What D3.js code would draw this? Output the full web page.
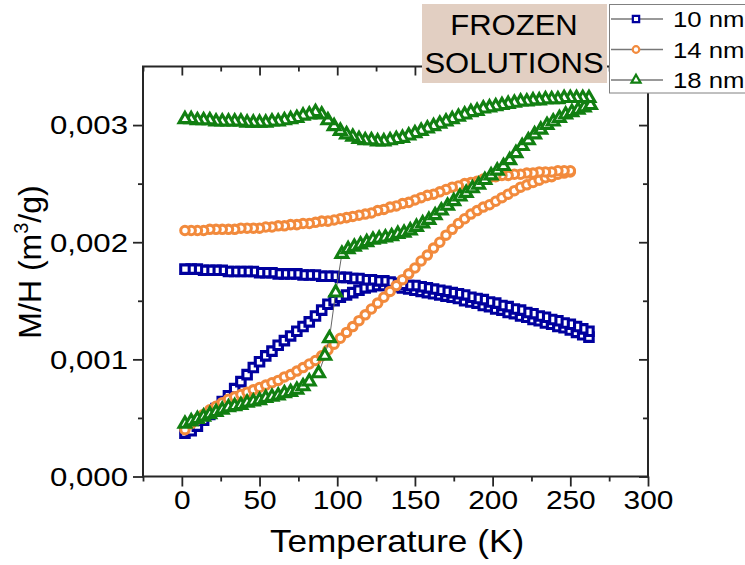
<!DOCTYPE html>
<html>
<head>
<meta charset="utf-8">
<script src="https://cdn.jsdelivr.net/npm/d3@7"></script>
<style>
  body { margin: 0; background: #fff; }
  svg text { font-family: "Liberation Sans", Arial, sans-serif; fill: #000; }
</style>
</head>
<body>
<svg id="chart" width="745" height="565"></svg>
<script>
// Temperature grids (K)
const temps = [2,6,10,14,18,22,26,30,34,38,42,46,50,54,58,62,66,70,74,78,82,86,90,94,98,102,106,110,114,118,122,126,130,134,138,142,146,150,154,158,162,166,170,174,178,182,186,190,194,198,202,206,210,214,218,222,226,230,234,238,242,246,250,254,258,262];
const temps14 = [2,6,10,14,18,22,26,30,34,38,42,46,50,54,58,62,66,70,74,78,82,86,90,94,98,102,106,110,114,118,122,126,130,134,138,142,146,150,154,158,162,166,170,174,178,182,186,190,194,198,202,206,210,214,218,222,226,230,234,238,242,246,250];
const tempsZfc18 = [2,6,10,14,18,22,26,30,34,38,42,46,50,54,58,62,66,70,74,78,82,88,92,95,99,103,107,111,115,119,123,127,131,135,139,143,147,151,155,159,163,167,171,175,179,183,187,191,195,199,203,207,211,215,219,223,227,231,235,239,243,247,251,255,259,263];

// M/H (m^3/g), zero-field-cooled (measured on warming) and field-cooled (listed by temperature)
const zfc10 = [0.00037,0.00039,0.00043,0.00048,0.00053,0.00058,0.00064,0.00069,0.00075,0.00081,
  0.00087,0.00093,0.00098,0.00103,0.00107,0.00112,0.00116,0.00120,0.00124,0.00128,
  0.00132,0.00137,0.00142,0.00147,0.00150,0.00153,0.00155,0.00157,0.00159,0.00161,
  0.00162,0.00163,0.00163,0.00163,0.00162,0.00161,0.00160,0.00159,0.00158,0.00157,
  0.00156,0.00155,0.00154,0.00153,0.00152,0.00150,0.00149,0.00148,0.00146,0.00145,
  0.00143,0.00142,0.00140,0.00139,0.00137,0.00136,0.00134,0.00133,0.00131,0.00130,
  0.00128,0.00127,0.00125,0.00123,0.00121,0.00119];
const fc10 = [0.00177,0.00177,0.00177,0.00176,0.00176,0.00176,0.00176,0.00175,0.00175,0.00175,
  0.00175,0.00175,0.00174,0.00174,0.00174,0.00173,0.00173,0.00173,0.00173,0.00172,
  0.00172,0.00172,0.00171,0.00171,0.00171,0.00170,0.00170,0.00169,0.00169,0.00168,
  0.00168,0.00167,0.00167,0.00166,0.00165,0.00164,0.00163,0.00163,0.00162,0.00161,
  0.00160,0.00159,0.00158,0.00157,0.00156,0.00155,0.00153,0.00152,0.00151,0.00149,
  0.00148,0.00146,0.00145,0.00143,0.00142,0.00140,0.00139,0.00137,0.00136,0.00134,
  0.00133,0.00131,0.00130,0.00128,0.00126,0.00124];

const zfc14 = [0.00040,0.00045,0.00049,0.00053,0.00057,0.00060,0.00063,0.00066,0.00068,0.00070,
  0.00072,0.00074,0.00076,0.00078,0.00080,0.00082,0.00085,0.00087,0.00090,0.00093,
  0.00096,0.00099,0.00103,0.00108,0.00113,0.00118,0.00123,0.00128,0.00133,0.00138,
  0.00143,0.00148,0.00153,0.00158,0.00163,0.00168,0.00173,0.00178,0.00184,0.00189,
  0.00195,0.00200,0.00206,0.00211,0.00216,0.00220,0.00224,0.00227,0.00230,0.00232,
  0.00235,0.00238,0.00241,0.00244,0.00247,0.00249,0.00251,0.00253,0.00255,0.00256,
  0.00258,0.00259,0.00260];
const fc14 = [0.00210,0.00210,0.00210,0.00210,0.00211,0.00211,0.00211,0.00211,0.00211,0.00212,
  0.00212,0.00212,0.00212,0.00213,0.00213,0.00214,0.00214,0.00215,0.00215,0.00216,
  0.00216,0.00217,0.00218,0.00218,0.00219,0.00220,0.00221,0.00222,0.00223,0.00224,
  0.00225,0.00227,0.00228,0.00230,0.00231,0.00233,0.00234,0.00236,0.00238,0.00240,
  0.00241,0.00243,0.00245,0.00247,0.00248,0.00250,0.00251,0.00252,0.00254,0.00255,
  0.00256,0.00257,0.00257,0.00258,0.00258,0.00259,0.00259,0.00260,0.00260,0.00260,
  0.00261,0.00261,0.00261];

const zfc18 = [0.00045,0.00047,0.00049,0.00051,0.00053,0.00055,0.00057,0.00059,0.00060,0.00061,
  0.00063,0.00064,0.00065,0.00067,0.00068,0.00069,0.00071,0.00072,0.00074,0.00077,
  0.00081,0.00088,0.00103,0.00118,0.00157,
  0.00190,0.00194,0.00196,0.00198,0.00200,0.00202,0.00203,0.00204,0.00205,0.00207,
  0.00208,0.00210,0.00213,0.00216,0.00219,0.00223,0.00227,0.00231,0.00235,0.00239,
  0.00242,0.00246,0.00249,0.00253,0.00257,0.00261,0.00265,0.00270,0.00276,0.00282,
  0.00287,0.00292,0.00296,0.00300,0.00303,0.00306,0.00309,0.00311,0.00313,0.00315,
  0.00317];
const fc18 = [0.00305,0.00305,0.00304,0.00304,0.00304,0.00303,0.00303,0.00303,0.00303,0.00303,
  0.00302,0.00302,0.00302,0.00302,0.00303,0.00303,0.00304,0.00305,0.00306,0.00308,
  0.00309,0.00311,0.00309,0.00304,0.00299,0.00295,0.00292,0.00290,0.00288,0.00287,
  0.00287,0.00286,0.00286,0.00287,0.00288,0.00289,0.00291,0.00293,0.00295,0.00297,
  0.00299,0.00301,0.00303,0.00305,0.00307,0.00309,0.00311,0.00312,0.00314,0.00315,
  0.00316,0.00317,0.00318,0.00319,0.00320,0.00320,0.00321,0.00321,0.00322,0.00322,
  0.00322,0.00323,0.00323,0.00323,0.00323,0.00323];

const seriesNames = ["10 nm", "14 nm", "18 nm"];
const xMajorTicks = [0, 50, 100, 150, 200, 250, 300];
const xMinorTicks = [-25, 25, 75, 125, 175, 225, 275];
const yMajorTicks = [0, 0.001, 0.002, 0.003];
const yMinorTicks = [0.0005, 0.0015, 0.0025];
const annotationLines = ["FROZEN", "SOLUTIONS"];

// ---- drawing ----
const svg = d3.select("#chart");
const frameColor = "#262626";
const x = d3.scaleLinear().domain([-25, 300]).range([143, 648]);
const y = d3.scaleLinear().domain([0, 0.0035]).range([476.5, 66.5]);

const samples = [
  { name: seriesNames[0], zT: temps, z: zfc10, fT: temps, f: fc10,
    color: "#00009e", symbol: d3.symbolSquare, size: 72, lsize: 40 },
  { name: seriesNames[1], zT: temps14, z: zfc14, fT: temps14, f: fc14,
    color: "#f28a3c", symbol: d3.symbolCircle, size: 56, lsize: 34 },
  { name: seriesNames[2], zT: tempsZfc18, z: zfc18, fT: temps, f: fc18,
    color: "#117f11", symbol: d3.symbolTriangle, size: 60, lsize: 36 }
];

const plot = svg.append("g");
const line = d3.line().x(d => x(d[0])).y(d => y(d[1]));

samples.forEach(s => {
  // ZFC run going up in temperature, then the FC run coming back down
  const pts = s.zT.map((t, i) => [t, s.z[i]])
    .concat(s.fT.map((t, i) => [t, s.f[i]]).reverse());
  const g = plot.append("g");
  g.append("path").datum(pts).attr("d", line)
    .attr("fill", "none").attr("stroke", "#666").attr("stroke-width", 1);
  g.selectAll("path.m").data(pts).join("path").attr("class", "m")
    .attr("d", d3.symbol().type(s.symbol).size(s.size))
    .attr("transform", d => `translate(${x(d[0])},${y(d[1])})`)
    .attr("fill", "#fff").attr("stroke", s.color)
    .attr("stroke-width", 3.1).attr("stroke-linejoin", "miter");
});

// axes: outward ticks on bottom/left, inward mirrors on top/right
function styleAxis(g) {
  g.select(".domain").remove();
  g.selectAll(".tick line").attr("stroke", frameColor).attr("stroke-width", 1.8);
}
const yFmt = d => d3.format(".3f")(d).replace(".", ",");

const gb = svg.append("g").attr("transform", `translate(0,${y(0)})`);
gb.call(d3.axisBottom(x).tickValues(xMajorTicks).tickSize(10).tickPadding(4).tickFormat(d3.format("d")));
gb.call(styleAxis);
gb.selectAll(".tick text").attr("font-size", 26).attr("transform", "scale(1.15,1)");
svg.append("g").attr("transform", `translate(0,${y(0)})`)
  .call(d3.axisBottom(x).tickValues(xMinorTicks).tickSize(5).tickFormat(""))
  .call(styleAxis);

const gl = svg.append("g").attr("transform", `translate(${x(-25)},0)`);
gl.call(d3.axisLeft(y).tickValues(yMajorTicks).tickSize(10).tickPadding(5).tickFormat(yFmt));
gl.call(styleAxis);
gl.selectAll(".tick text").attr("font-size", 26)
  .attr("x", -15 / 1.2).attr("dy", "0.34em").attr("transform", "scale(1.2,1)");
svg.append("g").attr("transform", `translate(${x(-25)},0)`)
  .call(d3.axisLeft(y).tickValues(yMinorTicks).tickSize(5).tickFormat(""))
  .call(styleAxis);

svg.append("g").attr("transform", `translate(0,${y(0.0035)})`)
  .call(d3.axisTop(x).tickValues(xMajorTicks).tickSize(-9).tickFormat(""))
  .call(styleAxis);
svg.append("g").attr("transform", `translate(0,${y(0.0035)})`)
  .call(d3.axisTop(x).tickValues(xMinorTicks).tickSize(-5).tickFormat(""))
  .call(styleAxis);
svg.append("g").attr("transform", `translate(${x(300)},0)`)
  .call(d3.axisRight(y).tickValues(yMajorTicks).tickSize(-9).tickFormat(""))
  .call(styleAxis);
svg.append("g").attr("transform", `translate(${x(300)},0)`)
  .call(d3.axisRight(y).tickValues(yMinorTicks).tickSize(-5).tickFormat(""))
  .call(styleAxis);

// frame
svg.append("rect")
  .attr("x", x(-25)).attr("y", y(0.0035))
  .attr("width", x(300) - x(-25)).attr("height", y(0) - y(0.0035))
  .attr("fill", "none").attr("stroke", frameColor).attr("stroke-width", 2);

// axis titles
svg.append("text")
  .attr("transform", "translate(397,552) scale(1.1,1)")
  .attr("text-anchor", "middle").attr("font-size", 32)
  .text("Temperature (K)");

const yt = svg.append("text")
  .attr("transform", "translate(41,262) rotate(-90)")
  .attr("text-anchor", "middle").attr("font-size", 32);
yt.append("tspan").text("M/H (m");
yt.append("tspan").attr("font-size", 20).attr("dy", -13).text("3");
yt.append("tspan").attr("dy", 13).text("/g)");

// annotation box
svg.append("rect").attr("x", 422).attr("y", 4).attr("width", 185).attr("height", 79)
  .attr("fill", "#e2cfc2");
annotationLines.forEach((t, i) => {
  svg.append("text")
    .attr("transform", `translate(514,${i === 0 ? 35 : 73}) scale(1.07,1)`)
    .attr("text-anchor", "middle").attr("font-size", 29).text(t);
});

// legend
const lg = svg.append("g");
lg.append("rect").attr("x", 609.5).attr("y", 4.5).attr("width", 160).attr("height", 88.5)
  .attr("fill", "#fff").attr("stroke", "#808080").attr("stroke-width", 1);
samples.forEach((s, i) => {
  const cy = 19 + i * 30.5;
  lg.append("line").attr("x1", 611).attr("x2", 663).attr("y1", cy).attr("y2", cy)
    .attr("stroke", "#777").attr("stroke-width", 1.3);
  lg.append("path").attr("d", d3.symbol().type(s.symbol).size(s.lsize))
    .attr("transform", `translate(636,${cy})`)
    .attr("fill", "#fff").attr("stroke", s.color).attr("stroke-width", 2.2);
  lg.append("text").attr("transform", `translate(673,${cy + 8}) scale(1.17,1)`)
    .attr("font-size", 22).text(s.name);
});
</script>
</body>
</html>
